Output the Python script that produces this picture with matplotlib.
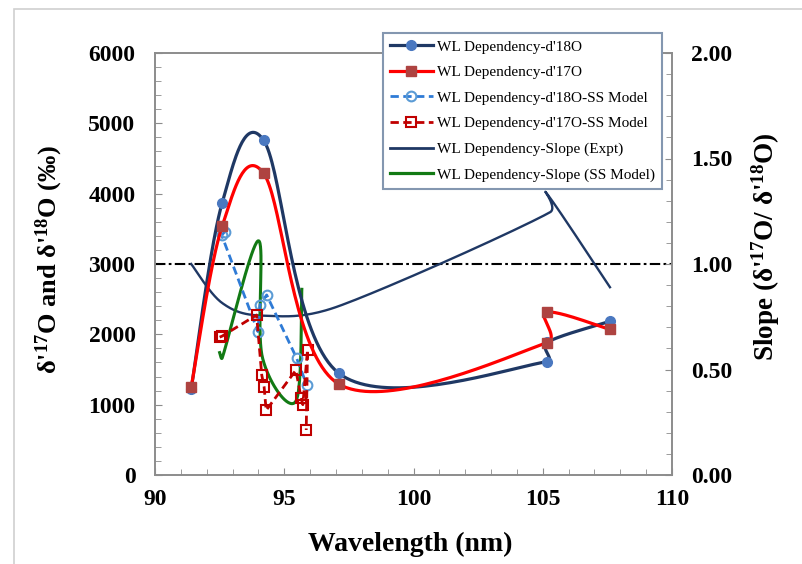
import numpy as np
import matplotlib.pyplot as plt
from matplotlib.lines import Line2D
from matplotlib.patches import Rectangle

plt.rcParams['font.family'] = ['Liberation Serif', 'DejaVu Serif']
plt.rcParams['mathtext.fontset'] = 'custom'
plt.rcParams['mathtext.rm'] = 'Liberation Serif:bold'
plt.rcParams['mathtext.bf'] = 'Liberation Serif:bold'
plt.rcParams['mathtext.it'] = 'Liberation Serif:bold:italic'

# ---- data ----
# experimental d'18O (one point at ~105.2 sits under the d'17O square)
wl_d18 = [91.4, 92.6, 94.2, 97.1, 105.15, 105.17, 107.6]
d18 = [1225, 3870, 4760, 1450, 1610, 1885, 2185]

# experimental d'17O
wl_d17 = [91.4, 92.6, 94.2, 97.1, 105.15, 105.15, 107.6]
d17 = [1250, 3540, 4290, 1295, 1880, 2315, 2070]

# SS model d'18O
wl_ss18 = [92.7, 92.58, 93.98, 94.06, 94.32, 95.48, 95.87]
d18_ss = [3460, 3410, 2040, 2420, 2560, 1660, 1280]

# SS model d'17O
wl_ss17 = [92.5, 92.6, 93.93, 94.13, 94.22, 94.3, 95.45, 95.65, 95.72, 95.9, 95.85]
d17_ss = [1960, 1975, 2275, 1420, 1256, 920, 1490, 1100, 1000, 1780, 640]

# slope, experiment (right axis)
wl_slope = [91.4, 92.6, 94.2, 97.1, 105.28, 105.15, 107.6]
slope_exp = [1.0, 0.815, 0.755, 0.80, 1.245, 1.335, 0.89]

# slope, SS model (right axis)
wl_slope_ss = [92.5, 92.6, 94.0, 94.15, 95.45, 95.68]
slope_ss = [0.58, 0.555, 1.11, 0.56, 0.35, 0.88]

ref_level = 3000

labels = ["WL Dependency-d'18O", "WL Dependency-d'17O",
          "WL Dependency-d'18O-SS Model", "WL Dependency-d'17O-SS Model",
          "WL Dependency-Slope (Expt)", "WL Dependency-Slope (SS Model)"]

NAVY = '#1F3864'
BLUE_MK = '#4A78C0'
RED = '#FF0000'
RED_MK = '#AE4341'
LBLUE = '#2F7BD6'
DRED = '#C00000'
GREEN = '#127A14'


def excel_smooth(ax, xs, ys, n=40):
    """Bezier smoothing like Excel's 'smoothed line', done in display space"""
    pts = ax.transData.transform(np.column_stack([xs, ys]))
    m = len(pts)
    out = [pts[0]]
    t = np.linspace(0, 1, n)[1:, None]
    for i in range(m - 1):
        p0 = pts[i - 1] if i > 0 else pts[i]
        p1, p2 = pts[i], pts[i + 1]
        p3 = pts[i + 2] if i + 2 < m else pts[i + 1]
        d12 = np.hypot(*(p2 - p1))
        d02 = np.hypot(*(p2 - p0))
        d13 = np.hypot(*(p3 - p1))
        f1 = 1 / 6 if d02 / 6 < d12 / 2 else d12 / 2 / max(d02, 1e-9)
        f2 = 1 / 6 if d13 / 6 < d12 / 2 else d12 / 2 / max(d13, 1e-9)
        b1 = p1 + (p2 - p0) * f1
        b2 = p2 - (p3 - p1) * f2
        seg = (1 - t) ** 3 * p1 + 3 * (1 - t) ** 2 * t * b1 + 3 * (1 - t) * t ** 2 * b2 + t ** 3 * p2
        out.extend(seg)
    res = ax.transData.inverted().transform(np.array(out))
    return res[:, 0], res[:, 1]


W, H = 803, 564
fig = plt.figure(figsize=(W / 100, H / 100), dpi=100)
fig.subplots_adjust(left=155 / W, right=672 / W, bottom=1 - 475 / H, top=1 - 53 / H)
ax = fig.add_subplot(111)
ax2 = ax.twinx()

ax.set_xlim(90, 110)
ax.set_ylim(0, 6000)
ax2.set_ylim(0, 2)

# outer chart border
fig.patches.append(Rectangle((14 / W, -0.1), 1.0, 1 - 9 / H + 0.1, transform=fig.transFigure,
                             fill=False, edgecolor='#D0D0D0', lw=1.2))

# reference line
ax.plot([90, 110], [ref_level, ref_level], color='black', lw=1.5, dashes=(5, 1.6, 1.3, 1.6), zorder=2)

# slope lines (right axis)
sx, sy = excel_smooth(ax2, wl_slope, slope_exp)
ax2.plot(sx, sy, color=NAVY, lw=1.7, zorder=3)
gx, gy = excel_smooth(ax2, wl_slope_ss, slope_ss)
ax2.plot(gx, gy, color=GREEN, lw=2.2, zorder=3)

# SS model (straight dashed)
ax2.plot(wl_ss18, np.array(d18_ss) / 3000, color=LBLUE, lw=2.0, dashes=(3, 1.6), zorder=4,
         marker='o', ms=7, mfc='none', mec='#5B9BD5', mew=1.5)
ax2.plot(wl_ss17, np.array(d17_ss) / 3000, color=DRED, lw=2.0, dashes=(3, 1.6), zorder=4,
         marker='s', ms=7, mfc='none', mec=DRED, mew=1.5)

# experiment
x18, y18 = excel_smooth(ax, wl_d18, d18)
ax2.plot(x18, np.array(y18) / 3000, color=NAVY, lw=2.3, zorder=5)
ax2.plot(wl_d18, np.array(d18) / 3000, 'o', color=BLUE_MK, ms=7, zorder=6)
x17, y17 = excel_smooth(ax, wl_d17, d17)
ax2.plot(x17, np.array(y17) / 3000, color=RED, lw=2.3, zorder=7)
ax2.plot(wl_d17, np.array(d17) / 3000, 's', color=RED_MK, ms=7, zorder=8)

# axes styling
for a in (ax, ax2):
    for s in a.spines.values():
        s.set_color('#8C8C8C')
        s.set_linewidth(1.2)

ax.set_xticks(np.arange(90, 111, 5))
ax.set_xticks(np.arange(90, 111, 1), minor=True)
ax.set_yticks(np.arange(0, 6001, 1000))
ax.set_yticks(np.arange(0, 6001, 200), minor=True)
ax2.set_yticks(np.arange(0, 2.01, 0.5))
ax2.set_yticks(np.arange(0, 2.01, 0.1), minor=True)
ax2.set_yticklabels([f'{v:.2f}' for v in np.arange(0, 2.01, 0.5)])

ax.tick_params(axis='both', which='both', direction='in', color='#8C8C8C', labelsize=17)
ax.tick_params(axis='x', which='major', length=5, pad=10)
ax.tick_params(axis='x', which='minor', length=4)
ax.tick_params(axis='y', which='major', length=5, pad=14)
ax.tick_params(axis='y', which='minor', length=4)
ax2.tick_params(axis='y', which='both', direction='in', color='#8C8C8C', labelsize=17, pad=14)
ax2.tick_params(axis='y', which='major', length=5)
ax2.tick_params(axis='y', which='minor', length=4)
for lab in ax.get_xticklabels() + ax.get_yticklabels() + ax2.get_yticklabels():
    lab.set_fontweight('bold')

ax.set_xlabel('Wavelength (nm)', fontsize=20, fontweight='bold')
ax.set_ylabel(r"δ'$^{\mathbf{17}}$O and δ'$^{\mathbf{18}}$O (‰)", fontsize=19, fontweight='bold')
ax2.set_ylabel(r"Slope (δ'$^{\mathbf{17}}$O/ δ'$^{\mathbf{18}}$O)", fontsize=19.5, fontweight='bold')
ax.xaxis.set_label_coords(0.493, -0.135)
ax.yaxis.set_label_coords(-0.175, 0.51)
ax2.yaxis.set_label_coords(1.15, 0.54)

handles = [
    Line2D([], [], color=NAVY, lw=2.3, marker='o', ms=7, mfc=BLUE_MK, mec=BLUE_MK),
    Line2D([], [], color=RED, lw=2.3, marker='s', ms=7, mfc=RED_MK, mec=RED_MK),
    Line2D([], [], color=LBLUE, lw=2.0, dashes=(3, 1.6), marker='o', ms=7, mfc='none', mec='#5B9BD5', mew=1.5),
    Line2D([], [], color=DRED, lw=2.0, dashes=(3, 1.6), marker='s', ms=7, mfc='none', mec=DRED, mew=1.5),
    Line2D([], [], color=NAVY, lw=2.0),
    Line2D([], [], color=GREEN, lw=2.3),
]
leg = fig.legend(handles, labels, loc='upper left', bbox_to_anchor=(383 / W, 1 - 33 / H),
                 fontsize=11, frameon=True, fancybox=False, framealpha=1, edgecolor='#8497B0',
                 handlelength=2.8, handletextpad=0.3, labelspacing=0.78, borderpad=0.45,
                 borderaxespad=0)
leg.get_frame().set_linewidth(1.5)

fig.savefig('out.png', dpi=100)
